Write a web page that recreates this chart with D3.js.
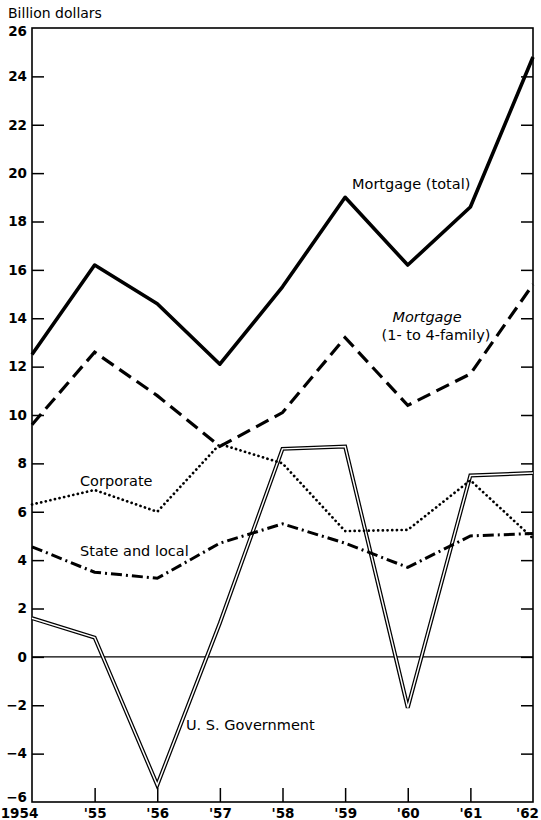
<!DOCTYPE html>
<html lang="en">
<head>
    <meta charset="UTF-8">
    <title>Credit flows 1954-62</title>
    <script src="https://d3js.org/d3.v7.min.js"></script>
    <style>
        body {margin: 0; background: #fff}
        text {
            font-family: 'DejaVu Sans', sans-serif;
            fill: #000;
        }
        .tick text {font-size: 13.5px; font-weight: bold}
        .domain {display: none}
        .lbl {font-size: 14.5px}
    </style>
</head>
<body>
<script>
    const width  = 541;
    const height = 820;

    const years        = [1954, 1955, 1956, 1957, 1958, 1959, 1960, 1961, 1962];
    const yearLabels   = ["1954", "'55", "'56", "'57", "'58", "'59", "'60", "'61", "'62"];
    const yTicks       = [-6, -4, -2, 0, 2, 4, 6, 8, 10, 12, 14, 16, 18, 20, 22, 24, 26];

    const mortgageTotal  = [12.5, 16.2, 14.6, 12.1, 15.3, 19.0, 16.2, 18.6, 24.8];
    const mortgageFamily = [9.6, 12.6, 10.8, 8.7, 10.1, 13.2, 10.4, 11.7, 15.4];
    const corporate      = [6.3, 6.9, 6.0, 8.8, 8.0, 5.2, 5.25, 7.3, 4.9];
    const stateLocal     = [4.55, 3.5, 3.25, 4.7, 5.5, 4.7, 3.7, 5.0, 5.1];
    const usGovernment   = [1.6, 0.8, -5.3, 1.4, 8.6, 8.7, -2.1, 7.5, 7.6];

    const plotL = 32, plotR = 533, plotT = 28, plotB = 802;

    const x = d3.scaleLinear().domain([1954, 1962]).range([plotL, plotR]);
    const y = d3.scaleLinear().domain([-6, 26]).range([plotB, plotT]);

    const svg = d3.select("body")
            .append("svg")
            .attr("width", width)
            .attr("height", height);

    // frame
    svg.append("rect")
       .attr("x", plotL).attr("y", plotT)
       .attr("width", plotR - plotL).attr("height", plotB - plotT)
       .style("fill", "none").style("stroke", "#000").style("stroke-width", 1.6);

    // zero line
    svg.append("line")
       .attr("x1", plotL).attr("x2", plotR)
       .attr("y1", y(0)).attr("y2", y(0))
       .style("stroke", "#000").style("stroke-width", 1.1);

    const yAxisL = d3.axisRight(y).tickValues(yTicks).tickSize(12).tickFormat(d => d);
    svg.append("g")
       .attr("transform", `translate(${plotL},0)`)
       .call(yAxisL)
       .call(g => g.selectAll(".tick line").style("stroke-width", 1.5))
       .call(g => g.selectAll(".tick text")
                   .attr("x", -5).attr("text-anchor", "end")
                   .attr("y", d => d == 26 ? 3 : d == -6 ? -5 : 0)
                   .text(d => d < 0 ? "\u2212" + (-d) : d))
       .call(g => g.selectAll(".tick").filter(d => d == 26 || d == -6).select("line").remove());

    const yAxisR = d3.axisLeft(y).tickValues(yTicks).tickSize(12).tickFormat("");
    svg.append("g")
       .attr("transform", `translate(${plotR},0)`)
       .call(yAxisR)
       .call(g => g.selectAll(".tick line").style("stroke-width", 1.5))
       .call(g => g.selectAll(".tick").filter(d => d == 26 || d == -6).remove());

    const xAxis = d3.axisTop(x).tickValues(years).tickSize(14).tickFormat((d, i) => yearLabels[i]);
    svg.append("g")
       .attr("transform", `translate(0,${plotB})`)
       .call(xAxis)
       .call(g => g.selectAll(".tick line").style("stroke-width", 1.5))
       .call(g => g.selectAll(".tick text").attr("y", 6).attr("dy", "0.71em"))
       .call(g => g.selectAll(".tick").filter(d => d == 1954 || d == 1962).select("line").remove())
       .call(g => g.selectAll(".tick").filter(d => d == 1954).select("text").attr("x", -13))
       .call(g => g.selectAll(".tick").filter(d => d == 1962).select("text").attr("x", -6));

    svg.append("text")
       .attr("x", 8).attr("y", 18)
       .style("font-size", "14px")
       .text("Billion dollars");

    const line = d3.line()
            .x((d, i) => x(years[i]))
            .y(d => y(d));

    const plot = svg.append("g");

    // U.S. Government: double line
    plot.append("path").attr("d", line(usGovernment))
        .style("fill", "none").style("stroke", "#000").style("stroke-width", 4)
        .style("stroke-linejoin", "miter");
    plot.append("path").attr("d", line(usGovernment))
        .style("fill", "none").style("stroke", "#fff").style("stroke-width", 1.5)
        .style("stroke-linejoin", "miter");

    plot.append("path").attr("d", line(mortgageTotal))
        .style("fill", "none").style("stroke", "#000").style("stroke-width", 3.6)
        .style("stroke-linejoin", "round");

    plot.append("path").attr("d", line(mortgageFamily))
        .style("fill", "none").style("stroke", "#000").style("stroke-width", 3.2)
        .style("stroke-dasharray", "14,7");

    plot.append("path").attr("d", line(corporate))
        .style("fill", "none").style("stroke", "#000").style("stroke-width", 2.7)
        .style("stroke-dasharray", "0.1,4.6").style("stroke-linecap", "round");

    plot.append("path").attr("d", line(stateLocal))
        .style("fill", "none").style("stroke", "#000").style("stroke-width", 3)
        .style("stroke-dasharray", "11,4,2,4");

    const labels = [
        {t: "Mortgage (total)", x: 352, y: 189, s: "normal"},
        {t: "Mortgage", x: 427, y: 322, s: "italic", a: "middle"},
        {t: "(1- to 4-family)", x: 436, y: 340, s: "normal", a: "middle"},
        {t: "Corporate", x: 80, y: 486, s: "normal"},
        {t: "State and local", x: 80, y: 556, s: "normal"},
        {t: "U. S. Government", x: 186, y: 730, s: "normal"}
    ];
    svg.selectAll("text.lbl")
       .data(labels).enter()
       .append("text").attr("class", "lbl")
       .attr("x", d => d.x).attr("y", d => d.y)
       .attr("text-anchor", d => d.a || "start")
       .style("font-style", d => d.s)
       .text(d => d.t);
</script>
</body>
</html>
